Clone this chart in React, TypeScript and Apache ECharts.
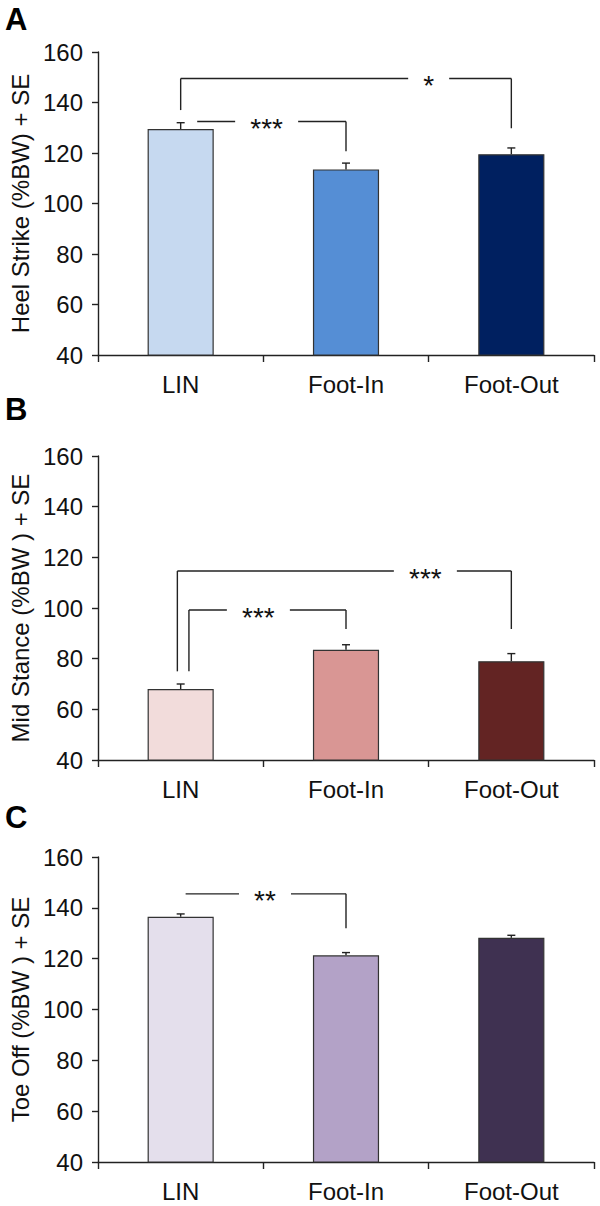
import React, { useEffect, useRef } from "react";
import * as echarts from "echarts";

const categories = ["LIN", "Foot-In", "Foot-Out"];
const yTicks = { min: 40, max: 160, interval: 20 };

const panelLetters = ["A", "B", "C"];
const panelTitles = [
  "Heel Strike (%BW) + SE",
  "Mid Stance (%BW ) + SE",
  "Toe Off (%BW ) + SE",
];

const heelValues = [129.5, 113.5, 119.5];
const heelErrTop = [132, 116, 122];
const midValues = [68, 83.5, 79];
const midErrTop = [70, 85.5, 82];
const toeValues = [136.5, 121.3, 128.2];
const toeErrTop = [137.6, 122.4, 129.2];

const heelColors = ["#c6d9f0", "#558ed5", "#002060"];
const midColors = ["#f2dcdb", "#d99694", "#632423"];
const toeColors = ["#e4dfec", "#b3a2c7", "#3f3151"];

// brackets: [fromX, toX, y, leftEnd|null, rightEnd|null, label, labelX]  (x in category units)
const heelBrackets: [number, number, number, number | null, number | null, string, number][] = [
  [0, 2, 149.5, 137, 129.8, "*", 1.5],
  [0.1, 1, 132.5, null, 120.7, "***", 0.52],
];
const midBrackets: [number, number, number, number | null, number | null, string, number][] = [
  [-0.02, 2, 114.6, 75, 91.7, "***", 1.48],
  [0.05, 1, 99.2, 75, 91.7, "***", 0.47],
];
const toeBrackets: [number, number, number, number | null, number | null, string, number][] = [
  [0.03, 1, 145.5, null, 132, "**", 0.51],
];

const FONT = "'Liberation Sans', Arial, Helvetica, sans-serif";

export default function App() {
  const ref = useRef<HTMLDivElement>(null);
  useEffect(() => {
    if (!ref.current) return;
    const chart = echarts.init(ref.current, null, { renderer: "svg" });
    const panels = [
      { vals: heelValues, errs: heelErrTop, colors: heelColors, brackets: heelBrackets, top: 52, height: 303 },
      { vals: midValues, errs: midErrTop, colors: midColors, brackets: midBrackets, top: 456, height: 304 },
      { vals: toeValues, errs: toeErrTop, colors: toeColors, brackets: toeBrackets, top: 857, height: 305 },
    ];
    const grids: any[] = [];
    const xAxes: any[] = [];
    const yAxes: any[] = [];
    const series: any[] = [];
    const graphics: any[] = [];
    const letterTops = [4, 394, 802];
    panels.forEach((p, i) => {
      grids.push({ left: 95, top: p.top, width: 499, height: p.height });
      xAxes.push({
        type: "category",
        gridIndex: i,
        data: categories,
        axisLine: { lineStyle: { color: "#222", width: 1.4 } },
        axisTick: { show: true, length: 7, lineStyle: { color: "#222", width: 1.4 } },
        axisLabel: { fontSize: 24, color: "#111", fontFamily: FONT, margin: 17 },
      });
      yAxes.push({
        type: "value",
        gridIndex: i,
        min: yTicks.min,
        max: yTicks.max,
        interval: yTicks.interval,
        splitLine: { show: false },
        axisLine: { show: true, lineStyle: { color: "#222", width: 1.4 } },
        axisTick: { show: true, length: 6, lineStyle: { color: "#222", width: 1.4 } },
        axisLabel: { fontSize: 24, color: "#111", fontFamily: FONT, margin: 15 },
        name: panelTitles[i],
        nameLocation: "middle",
        nameGap: 66,
        nameTextStyle: { fontSize: 24, color: "#111", fontFamily: FONT },
      });
      series.push({
        type: "bar",
        xAxisIndex: i,
        yAxisIndex: i,
        barWidth: "40%",
        data: p.vals.map((v, k) => ({
          value: v,
          itemStyle: { color: p.colors[k], borderColor: "#333", borderWidth: 1.2 },
        })),
      });
      series.push({
        type: "custom",
        xAxisIndex: i,
        yAxisIndex: i,
        data: p.vals.map((v, k) => [k, v, p.errs[k]]),
        renderItem: (params: any, api: any) => {
          const base = api.coord([api.value(0), api.value(1)]);
          const top = api.coord([api.value(0), api.value(2)]);
          const style = { stroke: "#222", lineWidth: 1.4 };
          return {
            type: "group",
            children: [
              { type: "line", shape: { x1: base[0], y1: base[1], x2: top[0], y2: top[1] }, style },
              { type: "line", shape: { x1: top[0] - 4, y1: top[1], x2: top[0] + 4, y2: top[1] }, style },
            ],
          };
        },
        z: 3,
      });
      series.push({
        type: "custom",
        xAxisIndex: i,
        yAxisIndex: i,
        data: p.brackets.map((b) => [b[0], b[1], b[2], b[3] == null ? NaN : b[3], b[4] == null ? NaN : b[4], b[6], b[5].length]),
        renderItem: (params: any, api: any) => {
          const idx = params.dataIndex;
          const b = p.brackets[idx];
          const c0 = api.coord([0, b[2]]);
          const c1 = api.coord([1, b[2]]);
          const step = c1[0] - c0[0];
          const xOf = (c: number) => c0[0] + c * step;
          const yOf = (v: number) => api.coord([0, v])[1];
          const xl = xOf(b[0]);
          const xr = xOf(b[1]);
          const yy = yOf(b[2]);
          const xm = xOf(b[6]);
          const half = 15 + b[5].length * 5.5;
          const style = { stroke: "#222", lineWidth: 1.4 };
          const children: any[] = [
            { type: "line", shape: { x1: xl, y1: yy, x2: xm - half, y2: yy }, style },
            { type: "line", shape: { x1: xm + half, y1: yy, x2: xr, y2: yy }, style },
            {
              type: "text",
              style: {
                text: b[5],
                x: xm,
                y: yy + 7,
                align: "center",
                verticalAlign: "middle",
                fontSize: 28,
                fontFamily: FONT,
                fill: "#111",
              },
            },
          ];
          if (b[3] != null) children.push({ type: "line", shape: { x1: xl, y1: yy, x2: xl, y2: yOf(b[3]) }, style });
          if (b[4] != null) children.push({ type: "line", shape: { x1: xr, y1: yy, x2: xr, y2: yOf(b[4]) }, style });
          return { type: "group", children };
        },
        z: 4,
      });
      graphics.push({
        type: "text",
        left: 5,
        top: letterTops[i],
        style: { text: panelLetters[i], fontSize: 31, fontWeight: "bold", fontFamily: FONT, fill: "#000" },
      });
    });
    chart.setOption({
      animation: false,
      backgroundColor: "#fff",
      grid: grids,
      xAxis: xAxes,
      yAxis: yAxes,
      series,
      graphic: graphics,
    });
    return () => chart.dispose();
  }, []);
  return (
    <div
      ref={ref}
      style={{ position: "absolute", left: 0, top: 0, width: 600, height: 1206, background: "#fff" }}
    />
  );
}
